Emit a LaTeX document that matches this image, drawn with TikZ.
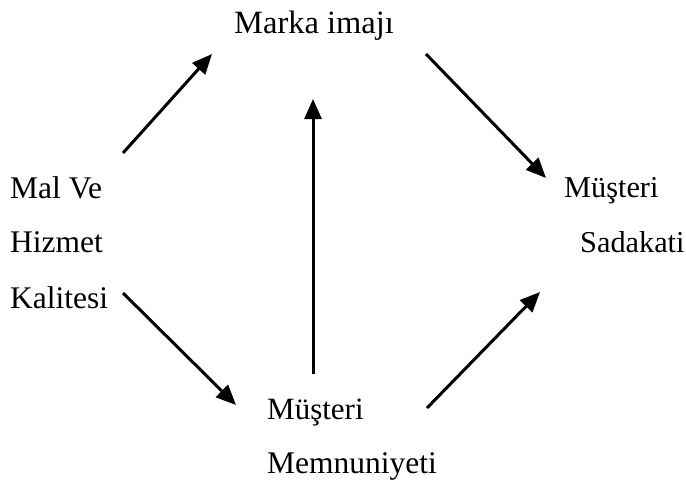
\documentclass[tikz,border=0pt]{standalone}
\usepackage{fontspec}
\setmainfont{Liberation Serif}
\usetikzlibrary{arrows.meta}
\begin{document}
\begin{tikzpicture}[x=1pt,y=-1pt,
  lbl/.style={anchor=base west,inner sep=0pt},
  fs/.style={font=\fontsize{#1}{#1}\selectfont},
  arr/.style={line width=3pt,-{Triangle[length=20pt,width=17pt]}}]
\useasboundingbox (0,0) rectangle (686,485);
\node[lbl,fs=32.5] (marka) at (234,33) {Marka imajı};
\node[lbl,fs=31.5] (mal1) at (10,198) {Mal Ve};
\node[lbl,fs=31.5] (mal2) at (10,252) {Hizmet};
\node[lbl,fs=31.5] (mal3) at (10,308) {Kalitesi};
\node[lbl,fs=30.3] (sad1) at (564,197) {Müşteri};
\node[lbl,fs=30.3] (sad2) at (580,252) {Sadakati};
\node[lbl,fs=31] (mem1) at (267,419) {Müşteri};
\node[lbl,fs=31.5] (mem2) at (267,473) {Memnuniyeti};
\coordinate (a1s) at (123,153); \coordinate (a1e) at (212,54);
\coordinate (a2s) at (313,374); \coordinate (a2e) at (313,99);
\coordinate (a3s) at (426,54);  \coordinate (a3e) at (546,178);
\coordinate (a4s) at (123,293); \coordinate (a4e) at (236,405);
\coordinate (a5s) at (427,408); \coordinate (a5e) at (540,292);
\draw[arr] (a1s) -- (a1e);
\draw[arr] (a2s) -- (a2e);
\draw[arr] (a3s) -- (a3e);
\draw[arr] (a4s) -- (a4e);
\draw[arr] (a5s) -- (a5e);
\end{tikzpicture}
\end{document}
